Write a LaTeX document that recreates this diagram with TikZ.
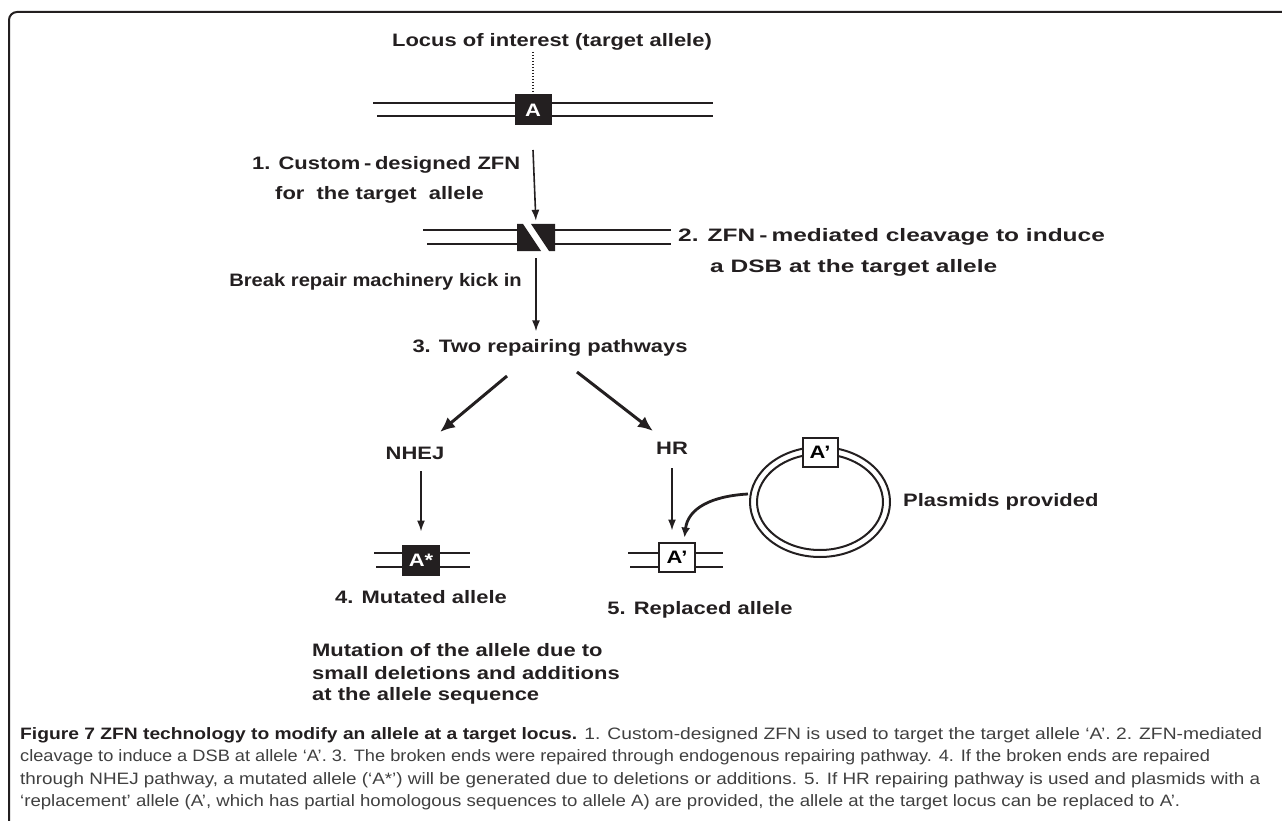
\documentclass[tikz,border=0pt]{standalone}
\usepackage{fontspec}
\usepackage{graphicx}
\setmainfont{Liberation Sans}
\usetikzlibrary{arrows.meta}
\definecolor{ink}{HTML}{231F20}
\definecolor{capgray}{HTML}{404040}
\newcommand{\dt}[1]{\scalebox{1.22}[1]{#1}}
\newcommand{\dtn}[1]{\scalebox{1.12}[1]{#1}}
\newcommand{\dtw}[1]{\scalebox{1.36}[1]{#1}}
\newcommand{\capline}[2]{\resizebox{#1pt}{\height}{#2}}
\tikzset{
  lbl/.style={font=\fontsize{18}{22}\selectfont\bfseries, text=ink, inner sep=0pt},
  dna/.style={line width=2.2pt, draw=ink},
  allele/.style={draw=ink, line width=2pt, minimum width=35pt, minimum height=29pt, inner sep=0pt, font=\fontsize{18}{22}\selectfont\bfseries},
  thinarrow/.style={draw=ink, line width=1.6pt, -{Latex[length=11pt,width=8pt]}},
  thickarrow/.style={draw=ink, line width=3pt, -{Latex[length=15pt,width=13pt]}},
  capfont/.style={font=\fontsize{16.5}{20}\selectfont, text=capgray, inner sep=0pt, anchor=west}
}
\begin{document}
\begin{tikzpicture}[x=1pt,y=-1pt]
\useasboundingbox (0,0) rectangle (1282,821);
% frame
\draw[ink, line width=2pt, rounded corners=8pt] (1282,12) -- (9,12) -- (9,821);

% locus
\node[lbl] (title) at (552,42) {\dt{Locus of interest (target allele)}};
\draw[dna] (373,103) -- (713,103);
\draw[dna] (377,116) -- (713,116);
\node[allele, fill=ink, text=white] (boxA) at (533,110) {\dt{A}};
\coordinate (dotTop) at (533,52);
\draw[ink, line width=1.5pt, dash pattern=on 1.5pt off 1.5pt] (dotTop) -- (boxA.north);

% step 1
\node[lbl, anchor=west] (s1a) at (252,165) {\dt{1. Custom\,-\,designed ZFN}};
\node[lbl, anchor=west] (s1b) at (275,195) {\dt{for\ \ the target\ \ allele}};

% cleaved DNA
\draw[dna] (423,230) -- (520,230);
\draw[dna] (427,244) -- (520,244);
\draw[dna] (552,230) -- (671,230);
\draw[dna] (552,244) -- (671,244);
\node[minimum width=38pt, minimum height=27pt, inner sep=0pt] (cut) at (536,237.5) {};
\fill[ink] (517,224) -- (523,224) -- (541,251) -- (517,251) -- cycle;
\fill[ink] (531,224) -- (555,224) -- (555,251) -- (549,251) -- cycle;
\coordinate (a1) at (533,150);
\draw[thinarrow, shorten >=3pt] (a1) -- (cut.north);

% step 2
\node[lbl, anchor=west] (s2a) at (678,237) {\dtw{2. ZFN\,-\,mediated cleavage to induce}};
\node[lbl, anchor=west] (s2b) at (710,268) {\dtw{a DSB at the target allele}};

% break repair
\node[lbl, anchor=east] (brk) at (522,282) {\dtn{Break repair machinery kick in}};
\node[lbl] (two) at (550,348) {\dt{3. Two repairing pathways}};
\draw[thinarrow, shorten <=7pt, shorten >=8pt] (cut.south) -- (cut.south |- two.north);

% pathways
\node[lbl] (nhej) at (415,453) {\dt{NHEJ}};
\node[lbl] (hr) at (672,448) {\dt{HR}};
\coordinate (l1) at (507,376);
\coordinate (l2) at (440,432);
\coordinate (r1) at (577,372);
\coordinate (r2) at (653,431);
\draw[thickarrow] (l1) -- (l2);
\draw[thickarrow] (r1) -- (r2);

% mutated allele
\draw[dna] (374,553) -- (470,553);
\draw[dna] (376,567) -- (470,567);
\node[allele, fill=ink, text=white, minimum width=36pt] (astar) at (421,560) {\dt{A*}};
\draw[thinarrow, shorten <=12pt, shorten >=13pt] (astar.north |- nhej.south) -- (astar.north);
\node[lbl] (mut) at (421,597) {\dt{4. Mutated allele}};

% replaced allele
\draw[dna] (628,553) -- (723,553);
\draw[dna] (630,567) -- (723,567);
\node[allele, fill=white, minimum width=36pt] (aprime) at (677,557) {\dt{A’}};
\draw[thinarrow, shorten <=14pt, shorten >=11pt] (hr.south) -- (hr.south |- aprime.north);
\node[lbl] (rep) at (700,610) {\dt{5. Replaced allele}};

% plasmid
\draw[ink, line width=2pt] (820,502) ellipse [x radius=70pt, y radius=55pt];
\draw[ink, line width=2pt] (820,502) ellipse [x radius=63pt, y radius=48pt];
\node[allele, fill=white] (pbox) at (820,452) {\dt{A’}};
\coordinate (pl) at (748,494);
\draw[draw=ink, line width=2.8pt, shorten >=4pt, -{Latex[length=10pt,width=9pt]}] (pl) .. controls (712,496) and (688,508) .. ([xshift=7pt]aprime.north);
\node[lbl, anchor=west] (plas) at (903,502) {\dt{Plasmids provided}};

% mutation description
\node[lbl, anchor=west] (m1) at (312,650) {\dt{Mutation of the allele due to}};
\node[lbl, anchor=west] (m2) at (312,673) {\dt{small deletions and additions}};
\node[lbl, anchor=west] (m3) at (312,696) {\dt{at the allele sequence}};

% caption
\node[capfont] (c1) at (20,735) {\capline{1242}{\textbf{\color{ink}Figure 7 ZFN technology to modify an allele at a target locus.} 1. Custom-designed ZFN is used to target the target allele ‘A’. 2. ZFN-mediated}};
\node[capfont] (c2) at (20,757) {\capline{1190}{cleavage to induce a DSB at allele ‘A’. 3. The broken ends were repaired through endogenous repairing pathway. 4. If the broken ends are repaired}};
\node[capfont] (c3) at (20,780) {\capline{1240}{through NHEJ pathway, a mutated allele (‘A*’) will be generated due to deletions or additions. 5. If HR repairing pathway is used and plasmids with a}};
\node[capfont] (c4) at (20,802) {\capline{1160}{‘replacement’ allele (A’, which has partial homologous sequences to allele A) are provided, the allele at the target locus can be replaced to A’.}};
\end{tikzpicture}
\end{document}
